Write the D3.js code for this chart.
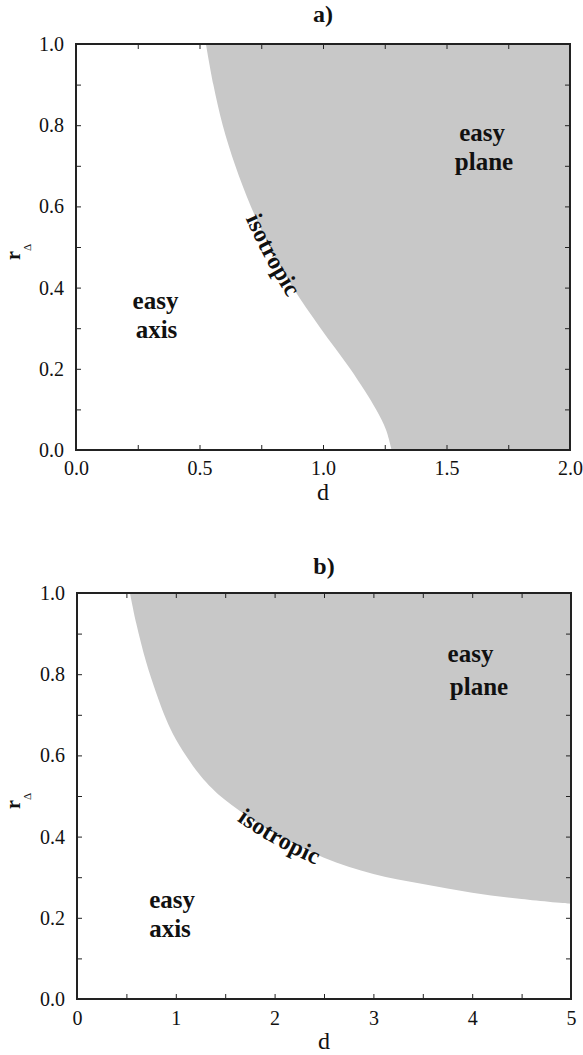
<!DOCTYPE html>
<html>
<head>
<meta charset="utf-8">
<script src="https://cdn.jsdelivr.net/npm/d3@7"></script>
<style>
  body { margin: 0; background: #fff; }
</style>
</head>
<body>
<script>
// panel a) : isotropic line, d as function of r_delta
var rA = [1.0, 0.9, 0.8, 0.7, 0.6, 0.5, 0.4, 0.3, 0.2, 0.1, 0.05, 0.0];
var dA = [0.526, 0.556, 0.594, 0.645, 0.708, 0.785, 0.878, 0.99, 1.11, 1.215, 1.255, 1.278];

// panel b) : isotropic line, r_delta as function of d
var dB = [0.536, 0.6, 0.7, 0.8, 0.9, 1.0, 1.25, 1.5, 2.0, 2.5, 3.0, 3.5, 4.0, 4.5, 5.0];
var rB = [1.0, 0.925, 0.83, 0.755, 0.69, 0.64, 0.55, 0.49, 0.408, 0.348, 0.308, 0.283, 0.262, 0.246, 0.234];

// tick labels
var xTicksA = [0, 0.5, 1.0, 1.5, 2.0];
var xTicksB = [0, 1, 2, 3, 4, 5];
var yTicks = [0, 0.2, 0.4, 0.6, 0.8, 1.0];

var FONT = "'Liberation Serif', 'Times New Roman', Times, 'DejaVu Serif', serif";

var svg = d3.select("body").append("svg")
    .attr("width", 583)
    .attr("height", 1055)
    .style("font-family", FONT);

function drawPanel(p) {
  var x = d3.scaleLinear().domain([0, p.xMax]).range([p.left, p.right]);
  var y = d3.scaleLinear().domain([0, 1]).range([p.bottom, p.top]);
  var pts = p.d.map(function(d, i) { return {d: d, r: p.r[i]}; });
  var g = svg.append("g");
  var curve = d3.curveCatmullRom.alpha(0.5);

  // easy plane region
  var area;
  if (p.vertical) {
    area = d3.area()
      .y(function(q) { return y(q.r); })
      .x0(function(q) { return x(q.d); })
      .x1(x(p.xMax))
      .curve(curve);
  } else {
    area = d3.area()
      .x(function(q) { return x(q.d); })
      .y0(function(q) { return y(q.r); })
      .y1(y(1))
      .curve(curve);
  }
  g.append("path").attr("d", area(pts)).attr("fill", "#c8c8c8");

  // boundary (invisible), used for the curved label
  var line = d3.line()
    .x(function(q) { return x(q.d); })
    .y(function(q) { return y(q.r); })
    .curve(curve);
  var bnd = g.append("path")
    .attr("id", p.id)
    .attr("d", line(pts))
    .attr("fill", "none")
    .attr("stroke", "none");

  // inward ticks on all four sides
  var minorX = d3.range(0, p.xMax + 1e-9, p.xMinor);
  var minorY = d3.range(0, 1 + 1e-9, 0.1);
  var tk = 5;
  var axes = [
    [d3.axisBottom(x).tickValues(minorX), "translate(0," + p.bottom + ")"],
    [d3.axisTop(x).tickValues(minorX), "translate(0," + p.top + ")"],
    [d3.axisLeft(y).tickValues(minorY), "translate(" + p.left + ",0)"],
    [d3.axisRight(y).tickValues(minorY), "translate(" + p.right + ",0)"]
  ];
  axes.forEach(function(a) {
    var ag = g.append("g")
      .attr("transform", a[1])
      .call(a[0].tickSize(-tk).tickFormat(""));
    ag.select(".domain").remove();
    ag.selectAll("line").attr("stroke", "#222").attr("stroke-width", 1);
  });

  // frame
  g.append("rect")
    .attr("x", p.left).attr("y", p.top)
    .attr("width", p.right - p.left).attr("height", p.bottom - p.top)
    .attr("fill", "none").attr("stroke", "#222").attr("stroke-width", 2);

  // tick labels
  var xl = g.append("g")
    .attr("transform", "translate(0," + p.bottom + ")")
    .call(d3.axisBottom(x).tickValues(p.xTicks).tickSize(0).tickPadding(p.xPad).tickFormat(d3.format(p.xFmt)));
  var yl = g.append("g")
    .attr("transform", "translate(" + p.left + ",0)")
    .call(d3.axisLeft(y).tickValues(yTicks).tickSize(0).tickPadding(12).tickFormat(d3.format(".1f")));
  [xl, yl].forEach(function(s) {
    s.select(".domain").remove();
    s.attr("font-family", FONT).attr("font-size", 20);
    s.selectAll("text").style("font-family", FONT).attr("font-size", "20px").attr("fill", "#111");
  });

  // axis titles
  g.append("text")
    .attr("x", (p.left + p.right) / 2)
    .attr("y", p.bottom + 50)
    .attr("text-anchor", "middle")
    .style("font-family", FONT)
    .attr("font-size", "24px")
    .attr("fill", "#111")
    .text("d");

  var yt = g.append("text")
    .attr("transform", "translate(20," + ((p.top + p.bottom) / 2 + 5) + ") rotate(-90)")
    .attr("text-anchor", "middle")
    .style("font-family", FONT)
    .attr("fill", "#111");
  yt.append("tspan").attr("font-size", "20px").attr("font-weight", "bold").text("r");
  yt.append("tspan").attr("font-size", "11px").attr("dy", 11).text("\u0394");

  // panel title
  g.append("text")
    .attr("x", (p.left + p.right) / 2)
    .attr("y", p.titleY)
    .attr("text-anchor", "middle")
    .style("font-family", FONT)
    .attr("font-size", "24px")
    .attr("font-weight", "bold")
    .attr("fill", "#111")
    .text(p.title);

  // region labels
  p.labels.forEach(function(l) {
    g.append("text")
      .attr("x", x(l[1]))
      .attr("y", y(l[2]))
      .attr("text-anchor", "middle")
      .style("font-family", FONT)
      .attr("font-size", "25px")
      .attr("font-weight", "bold")
      .attr("fill", "#111")
      .text(l[0]);
  });

  // "isotropic" along the boundary
  var node = bnd.node();
  var total = node.getTotalLength();
  var tx = x(p.isoAt[0]), ty = y(p.isoAt[1]);
  var best = 0, bd = Infinity;
  for (var L = 0; L <= total; L += 0.5) {
    var pt = node.getPointAtLength(L);
    var dd = (pt.x - tx) * (pt.x - tx) + (pt.y - ty) * (pt.y - ty);
    if (dd < bd) { bd = dd; best = L; }
  }
  g.append("text")
    .style("font-family", FONT)
    .attr("font-size", "24px")
    .attr("font-weight", "bold")
    .attr("fill", "#111")
    .attr("text-anchor", "middle")
    .attr("dy", "0.4em")
    .append("textPath")
    .attr("href", "#" + p.id)
    .attr("startOffset", best)
    .text("isotropic");
}

drawPanel({
  id: "bndA", title: "a)", titleY: 22,
  left: 76, right: 570, top: 44, bottom: 450,
  xMax: 2, xMinor: 0.25, xTicks: xTicksA, xFmt: ".1f", xPad: 11,
  d: dA, r: rA, vertical: true,
  isoAt: [0.81, 0.485],
  labels: [["easy", 1.644, 0.761], ["plane", 1.652, 0.69], ["easy", 0.322, 0.347], ["axis", 0.326, 0.276]]
});

drawPanel({
  id: "bndB", title: "b)", titleY: 574,
  left: 77, right: 571, top: 593, bottom: 999,
  xMax: 5, xMinor: 0.5, xTicks: xTicksB, xFmt: "d", xPad: 12,
  d: dB, r: rB, vertical: false,
  isoAt: [2.07, 0.41],
  labels: [["easy", 3.983, 0.83], ["plane", 4.069, 0.749], ["easy", 0.962, 0.224], ["axis", 0.941, 0.153]]
});
</script>
</body>
</html>
